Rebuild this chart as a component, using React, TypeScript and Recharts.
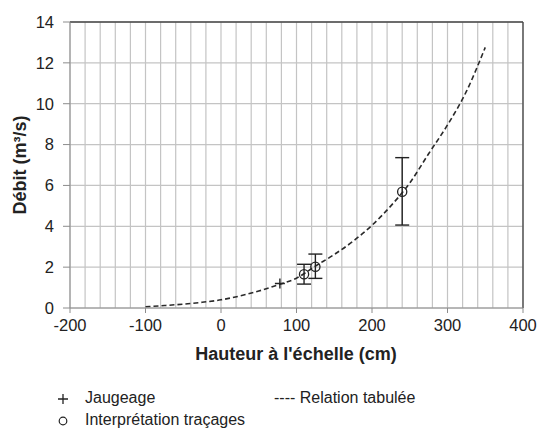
import React from 'react';
import { ComposedChart, Line, Scatter, ErrorBar, XAxis, YAxis, CartesianGrid, ReferenceLine } from 'recharts';

// Relation tabulée (hauteur cm -> débit m3/s)
const curveH = [-100, -75, -50, -25, 0, 25, 50, 75, 100, 125, 150, 175, 200, 225, 250, 275, 300, 325, 350];
const curveQ = [0.06, 0.12, 0.19, 0.28, 0.4, 0.59, 0.83, 1.13, 1.46, 2.05, 2.62, 3.27, 4.05, 5.0, 6.12, 7.55, 8.96, 10.6, 12.76];

// Jaugeage
const jaugeH = [78];
const jaugeQ = [1.2];

// Interprétation traçages
const tracH = [110, 125, 240];
const tracQ = [1.65, 2.02, 5.69];
const tracErrLow = [0.48, 0.57, 1.63];
const tracErrHigh = [0.49, 0.62, 1.67];

const xTicks = [-200, -100, 0, 100, 200, 300, 400];
const yTicks = [0, 2, 4, 6, 8, 10, 12, 14];
const xGrid = Array.from({ length: 31 }, (_, i) => -200 + i * 20);

const curveData = curveH.map((h, i) => ({ h, q: curveQ[i] }));
const jaugeData = jaugeH.map((h, i) => ({ h, q: jaugeQ[i] }));
const tracData = tracH.map((h, i) => ({ h, q: tracQ[i], err: [tracErrLow[i], tracErrHigh[i]] }));

const FONT = '"Liberation Sans", Arial, sans-serif';

const Cross = (props: any) => {
  const { cx, cy } = props;
  return <path d={`M${cx - 5},${cy}H${cx + 5}M${cx},${cy - 5}V${cy + 5}`} stroke="#222" strokeWidth={1.4} fill="none" />;
};

const Ring = (props: any) => {
  const { cx, cy } = props;
  return <circle cx={cx} cy={cy} r={4.6} stroke="#222" strokeWidth={1.3} fill="none" />;
};

// minor vertical grid every 20 cm
const verticalGen = (props: any) => {
  const { xAxis, offset } = props;
  if (xAxis && typeof xAxis.scale === 'function') {
    return xGrid.map((v) => xAxis.scale(v));
  }
  return xGrid.map((v) => offset.left + ((v + 200) / 600) * offset.width);
};

const App: React.FC = () => {
  return (
    <div style={{ position: 'absolute', left: 0, top: 0, width: 539, height: 435, background: '#fff', fontFamily: FONT }}>
      <ComposedChart width={539} height={435} margin={{ top: 22, right: 16, left: 0, bottom: 77 }}>
        <CartesianGrid stroke="#c4c4c4" strokeWidth={1.2} verticalCoordinatesGenerator={verticalGen} />
        <XAxis
          type="number"
          dataKey="h"
          domain={[-200, 400]}
          ticks={xTicks}
          allowDataOverflow
          height={50}
          stroke="#8c8c8c"
          tickSize={5}
          tickMargin={6}
          tick={{ fill: '#222', fontSize: 16.5, fontFamily: FONT }}
          label={{
            content: () => (
              <text x={296} y={360} textAnchor="middle" fontSize={18} fontWeight="bold" fill="#222" fontFamily={FONT}>
                Hauteur à l'échelle (cm)
              </text>
            ),
          }}
        />
        <YAxis
          type="number"
          dataKey="q"
          domain={[0, 14]}
          ticks={yTicks}
          allowDataOverflow
          width={70}
          stroke="#8c8c8c"
          tickSize={7}
          tickMargin={9}
          tick={{ fill: '#222', fontSize: 16.5, fontFamily: FONT }}
          label={{
            content: () => (
              <text x={26} y={165} transform="rotate(-90 26 165)" textAnchor="middle" fontSize={18} fontWeight="bold" fill="#222" fontFamily={FONT}>
                Débit (m³/s)
              </text>
            ),
          }}
        />
        <ReferenceLine y={14} stroke="#444" strokeWidth={1.3} />
        <ReferenceLine x={400} stroke="#444" strokeWidth={1.3} />
        <Line
          data={curveData}
          dataKey="q"
          type="monotone"
          stroke="#2a2a2a"
          strokeWidth={1.6}
          strokeDasharray="5 3"
          dot={false}
          activeDot={false}
          isAnimationActive={false}
        />
        <Scatter data={jaugeData} dataKey="q" shape={Cross} isAnimationActive={false} />
        <Scatter data={tracData} dataKey="q" shape={Ring} isAnimationActive={false}>
          <ErrorBar dataKey="err" direction="y" width={7} stroke="#222" strokeWidth={1.4} />
        </Scatter>
      </ComposedChart>

      {/* Légende */}
      <div style={{ position: 'absolute', left: 0, top: 0, fontSize: 16, color: '#222', lineHeight: '18px' }}>
        <svg style={{ position: 'absolute', left: 57, top: 393 }} width={12} height={12}>
          <path d="M1,6H11M6,1V11" stroke="#222" strokeWidth={1.3} />
        </svg>
        <div style={{ position: 'absolute', left: 85, top: 389, whiteSpace: 'nowrap' }}>Jaugeage</div>
        <div style={{ position: 'absolute', left: 274, top: 389, whiteSpace: 'nowrap' }}>---- Relation tabulée</div>
        <svg style={{ position: 'absolute', left: 57, top: 415 }} width={12} height={12}>
          <circle cx={6} cy={6} r={3.8} stroke="#222" strokeWidth={1.2} fill="none" />
        </svg>
        <div style={{ position: 'absolute', left: 85, top: 411, whiteSpace: 'nowrap' }}>Interprétation traçages</div>
      </div>
    </div>
  );
};

export default App;
